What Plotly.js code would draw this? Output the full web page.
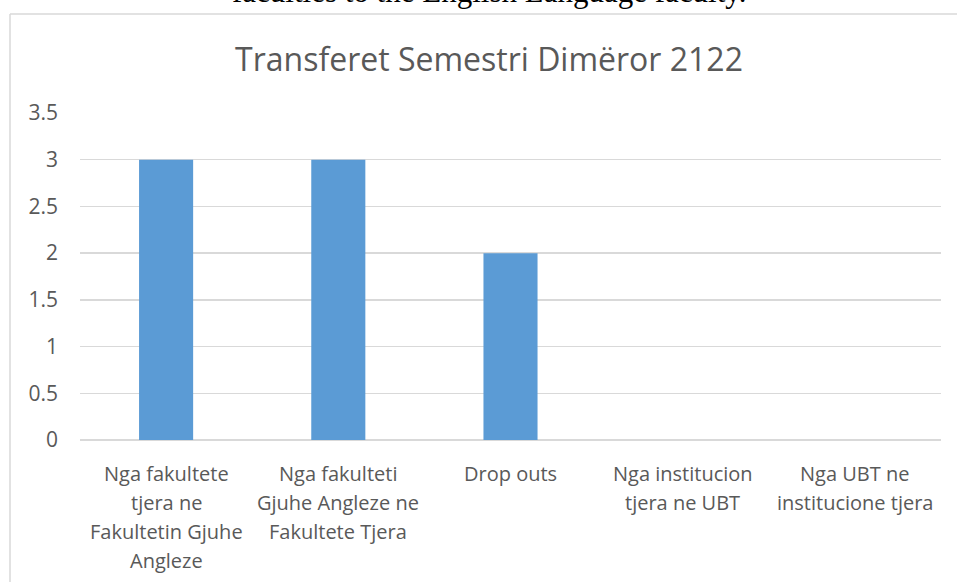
<!DOCTYPE html>
<html>
<head>
<meta charset="utf-8">
<script src="https://cdn.plot.ly/plotly-3.0.1.min.js"></script>
<style>
  html, body { margin: 0; padding: 0; background: #ffffff; }
  #chart { width: 957px; height: 582px; }
</style>
</head>
<body>
<div id="chart"></div>
<script>
// ---- data ----
const chartTitle = "Transferet Semestri Dimëror 2122";
const captionText = "faculties to the English Language faculty.";
const categories = ["c1", "c2", "c3", "c4", "c5"];
const tickLabels = [
  "Nga fakultete<br>tjera ne<br>Fakultetin Gjuhe<br>Angleze",
  "Nga fakulteti<br>Gjuhe Angleze ne<br>Fakultete Tjera",
  "Drop outs",
  "Nga institucion<br>tjera ne UBT",
  "Nga UBT ne<br>institucione tjera"
];
const values = [3, 3, 2, 0, 0];
const yTickVals = [0, 0.5, 1, 1.5, 2, 2.5, 3, 3.5];

// ---- layout helpers ----
const W = 957, H = 582;
const mL = 80, mR = 16, mT = 113, mB = 142;
const plotW = W - mL - mR, plotH = H - mT - mB;
const px2paperX = p => (p - mL) / plotW;
const px2paperY = p => (H - mB - p) / plotH;

const textColor = "#595959";
const font = "Open Sans, Noto Sans, DejaVu Sans, sans-serif";

const annotations = [];
tickLabels.forEach((lbl, i) => {
  lbl.split("<br>").forEach((line, j) => {
    annotations.push({
      x: categories[i], xref: "x",
      y: 0, yref: "paper",
      yanchor: "middle", xanchor: "center",
      yshift: -(33 + j * 29.3),
      text: line, showarrow: false,
      font: { family: font, size: 20, color: textColor }
    });
  });
});
// caption from surrounding document (cut off at top, as in the reference)
annotations.push({
  x: px2paperX(489), xref: "paper",
  y: px2paperY(11), yref: "paper",
  yanchor: "bottom", xanchor: "center",
  text: captionText, showarrow: false,
  font: { family: "Liberation Serif, Times New Roman, serif", size: 31, color: "#000000" }
});

const shapes = [
  { type: "line", xref: "paper", yref: "paper",
    x0: px2paperX(10), x1: px2paperX(10), y0: px2paperY(600), y1: px2paperY(14),
    line: { color: "#d9d9d9", width: 1.5 } },
  { type: "line", xref: "paper", yref: "paper",
    x0: px2paperX(10), x1: px2paperX(1000), y0: px2paperY(14), y1: px2paperY(14),
    line: { color: "#d9d9d9", width: 1.5 } }
];

const trace = {
  type: "bar",
  x: categories,
  y: values,
  marker: { color: "#5b9bd5", line: { width: 0 } },
  hoverinfo: "skip"
};

const layout = {
  width: W, height: H,
  margin: { l: mL, r: mR, t: mT, b: mB, pad: 0 },
  paper_bgcolor: "#ffffff",
  plot_bgcolor: "#ffffff",
  showlegend: false,
  bargap: 0.686,
  title: {
    text: chartTitle,
    xref: "container", x: 489 / W, xanchor: "center",
    yref: "container", y: 1 - 60 / H, yanchor: "middle",
    font: { family: font, size: 32, color: textColor }
  },
  xaxis: {
    showticklabels: false, showgrid: false, zeroline: false, showline: false,
    ticks: "", fixedrange: true
  },
  yaxis: {
    range: [0, 3.5],
    tickvals: yTickVals,
    showgrid: true, gridcolor: "#d9d9d9", gridwidth: 1.5,
    zeroline: true, zerolinecolor: "#d9d9d9", zerolinewidth: 1.5,
    showline: false, ticks: "",
    ticklabelstandoff: 21,
    tickfont: { family: font, size: 21, color: textColor },
    fixedrange: true
  },
  annotations: annotations,
  shapes: shapes
};

Plotly.newPlot("chart", [trace], layout, { displayModeBar: false, staticPlot: true });
</script>
</body>
</html>
